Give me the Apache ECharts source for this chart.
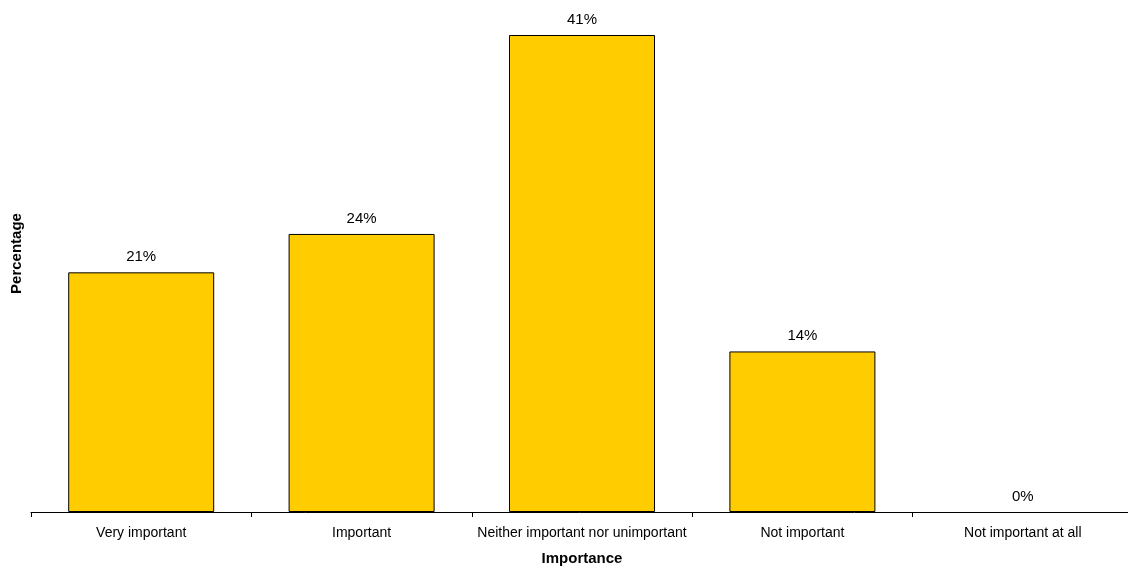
<!DOCTYPE html>
<html><head><meta charset="utf-8">
<script src="https://cdn.jsdelivr.net/npm/echarts@6/dist/echarts.min.js"></script>
<style>html,body{margin:0;padding:0;background:#fff}#c{width:1128px;height:567px}</style>
</head><body><div id="c"></div>
<script>
const categories = ["Very important","Important","Neither important nor unimportant","Not important","Not important at all"];
const values = [20.6, 23.9, 41, 13.8, 0];
const labels = ["21%","24%","41%","14%","0%"];
const chart = echarts.init(document.getElementById('c'));
chart.setOption({
  animation:false,
  grid:{left:31,right:-5,top:35,bottom:55,containLabel:false,outerBoundsMode:'none'},
  xAxis:{type:'category',data:categories,name:'Importance',nameLocation:'middle',nameGap:39,
    nameTextStyle:{fontFamily:'Liberation Sans, Arial',fontSize:15,fontWeight:'bold',color:'#000'},
    axisLine:{lineStyle:{color:'#000',width:1}},
    axisTick:{show:true,length:5,lineStyle:{color:'#000'},alignWithLabel:false},
    axisLabel:{fontFamily:'Liberation Sans, Arial',fontSize:14,color:'#000',margin:14,interval:0}},
  yAxis:{type:'value',min:0,max:41,show:true,name:'Percentage',nameLocation:'middle',nameGap:7,nameRotate:90,
    nameTextStyle:{fontFamily:'Liberation Sans, Arial',fontSize:15,fontWeight:'bold',color:'#000',padding:[0,0,0,40]},
    axisLine:{show:false},axisTick:{show:false},axisLabel:{show:false},splitLine:{show:false}},
  series:[{type:'bar',barWidth:146,
    data:values.map(v=>v===0?{value:v,itemStyle:{borderWidth:0}}:v),
    itemStyle:{color:'#FFCC00',borderColor:'#000',borderWidth:1},
    label:{show:true,position:'top',distance:8,fontFamily:'Liberation Sans, Arial',fontSize:15,color:'#000',
      formatter:p=>labels[p.dataIndex]}}]
});
</script></body></html>
